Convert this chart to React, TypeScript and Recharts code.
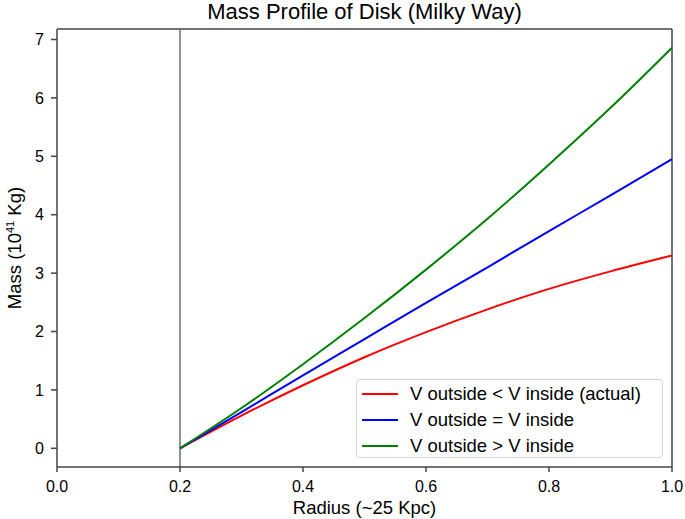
import { LineChart, Line, XAxis, YAxis, ReferenceLine, Legend } from 'recharts';

const radius = [0.2, 0.3, 0.4, 0.5, 0.6, 0.7, 0.8, 0.9, 1.0];
const massLess = [0, 0.56, 1.08, 1.56, 1.99, 2.38, 2.73, 3.03, 3.3];
const massEqual = [0, 0.62, 1.25, 1.87, 2.49, 3.1, 3.72, 4.33, 4.95];
const massMore = [0, 0.69, 1.44, 2.23, 3.06, 3.93, 4.86, 5.83, 6.86];

const xTicks = [0, 0.2, 0.4, 0.6, 0.8, 1.0];
const yTicks = [0, 1, 2, 3, 4, 5, 6, 7];

const seriesInfo = [
  { key: 'less', name: 'V outside < V inside (actual)', color: '#ff0000' },
  { key: 'equal', name: 'V outside = V inside', color: '#0000ff' },
  { key: 'more', name: 'V outside > V inside', color: '#008000' },
];

const data = radius.map((r, i) => ({
  r,
  less: massLess[i],
  equal: massEqual[i],
  more: massMore[i],
}));

const FONT = '"Liberation Sans", Arial, Helvetica, sans-serif';
const Y_MIN = -0.32;
const Y_MAX = 7.18;

function LegendBox() {
  return (
    <div
      style={{
        width: 307,
        height: 79,
        boxSizing: 'border-box',
        border: '1px solid #d6d6d6',
        borderRadius: 4,
        background: 'rgba(255,255,255,0.85)',
        paddingTop: 1,
        fontFamily: FONT,
        fontSize: 18.5,
        color: '#000',
      }}
    >
      {seriesInfo.map((s) => (
        <div key={s.key} style={{ display: 'flex', alignItems: 'center', height: 26 }}>
          <div style={{ width: 36, height: 2, background: s.color, marginLeft: 5, marginRight: 12 }} />
          <span>{s.name}</span>
        </div>
      ))}
    </div>
  );
}

export default function App() {
  return (
    <div style={{ position: 'absolute', left: 0, top: 0, width: 685, height: 519, background: '#fff' }}>
      <div
        style={{
          position: 'absolute',
          left: 57,
          width: 615,
          top: 0,
          textAlign: 'center',
          fontFamily: FONT,
          fontSize: 22,
          lineHeight: '24px',
          color: '#000',
        }}
      >
        Mass Profile of Disk (Milky Way)
      </div>
      <LineChart width={685} height={519} data={data} margin={{ top: 29, right: 13, bottom: 0, left: 0 }}>
        <XAxis
          dataKey="r"
          type="number"
          domain={[0, 1]}
          ticks={xTicks}
          tickFormatter={(v: number) => v.toFixed(1)}
          height={52}
          tickSize={5}
          tickMargin={9}
          stroke="#444"
          strokeWidth={1.5}
          tick={{ fill: '#000', fontSize: 16, fontFamily: FONT }}
          label={(props: any) => {
            const vb = props.viewBox;
            return (
              <text
                x={vb.x + vb.width / 2}
                y={vb.y + 47}
                textAnchor="middle"
                fontFamily={FONT}
                fontSize={18.5}
                fill="#000"
              >
                Radius (~25 Kpc)
              </text>
            );
          }}
        />
        <YAxis
          type="number"
          domain={[Y_MIN, Y_MAX]}
          ticks={yTicks}
          allowDataOverflow
          width={57}
          tickSize={6}
          tickMargin={7}
          stroke="#444"
          strokeWidth={1.5}
          tick={{ fill: '#000', fontSize: 16, fontFamily: FONT }}
          label={(props: any) => {
            const vb = props.viewBox;
            const cy = vb.y + vb.height / 2;
            return (
              <text
                x={21}
                y={cy}
                transform={`rotate(-90, 21, ${cy})`}
                textAnchor="middle"
                fontFamily={FONT}
                fontSize={18.5}
                fill="#000"
              >
                <tspan>Mass (10</tspan>
                <tspan fontSize={11} dy={-7}>41</tspan>
                <tspan dy={7}> Kg)</tspan>
              </text>
            );
          }}
        />
        <ReferenceLine y={Y_MAX} stroke="#444" strokeWidth={1.5} ifOverflow="visible" />
        <ReferenceLine x={1} stroke="#444" strokeWidth={1.5} ifOverflow="visible" />
        <ReferenceLine x={0.2} stroke="#6e6e6e" strokeWidth={1.5} />
        {seriesInfo.map((s) => (
          <Line
            key={s.key}
            type="monotone"
            dataKey={s.key}
            name={s.name}
            stroke={s.color}
            strokeWidth={2}
            dot={false}
            isAnimationActive={false}
          />
        ))}
        <Legend
          layout="horizontal"
          align="center"
          verticalAlign="middle"
          content={() => <LegendBox />}
          wrapperStyle={{ left: 356, top: 379, width: 307, height: 79 }}
        />
      </LineChart>
    </div>
  );
}
